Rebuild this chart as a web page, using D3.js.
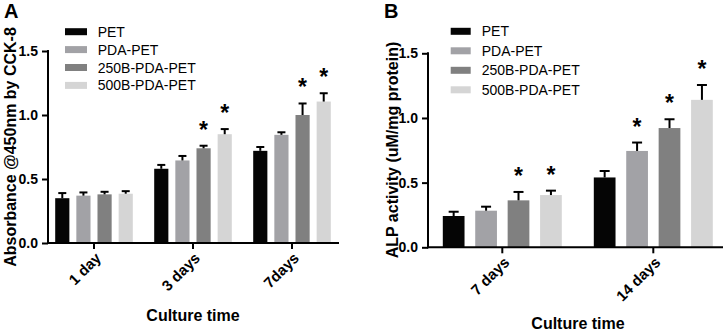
<!DOCTYPE html>
<html><head><meta charset="utf-8">
<script src="https://cdn.jsdelivr.net/npm/d3@7"></script>
<style>body{margin:0;background:#fff}svg{font-family:"Liberation Sans",Arial,sans-serif}</style>
</head><body><svg id="c" width="726" height="332"></svg>
<script>
const series = ["PET","PDA-PET","250B-PDA-PET","500B-PDA-PET"];
const colors = ["#050505","#a2a2a6","#808080","#d5d5d5"];
const yTicks = [0,0.5,1.0,1.5];

const catsA = ["1 day","3 days","7days"];
const meanA = [[0.35,0.37,0.38,0.385],[0.58,0.645,0.74,0.85],[0.72,0.845,1.0,1.105]];
const errA  = [[0.04,0.025,0.02,0.02],[0.03,0.035,0.02,0.04],[0.03,0.02,0.09,0.065]];
const starA = [[0,0,0,0],[0,0,1,1],[0,0,1,1]];

const catsB = ["7 days","14 days"];
const meanB = [[0.242,0.283,0.363,0.404],[0.54,0.745,0.922,1.14]];
const errB  = [[0.033,0.031,0.065,0.034],[0.05,0.065,0.068,0.115]];
const starB = [[0,0,1,1],[0,1,1,1]];

const svg = d3.select("#c");

function panel(o){
  const g = svg.append("g");
  const x = d3.scaleBand().domain(o.cats).range(o.xr).padding(0);
  const xs = d3.scaleBand().domain(series).range([-o.gw/2,o.gw/2]).paddingInner(0.33).paddingOuter(0);
  const y = d3.scaleLinear().domain([0,1.5]).range(o.yr);
  const rows = [];
  o.cats.forEach((c,i)=>series.forEach((s,j)=>rows.push({c,s,j,v:o.mean[i][j],e:o.err[i][j],st:o.star[i][j]})));
  const cx = d => x(d.c)+x.bandwidth()/2 + xs(d.s);
  g.selectAll("rect.bar").data(rows).join("rect").attr("class","bar")
    .attr("x",cx).attr("width",xs.bandwidth())
    .attr("y",d=>y(d.v)).attr("height",d=>y(0)-y(d.v)).attr("fill",(d)=>colors[d.j]);
  const eg = g.selectAll("g.err").data(rows).join("g").attr("class","err");
  eg.append("line").attr("x1",d=>cx(d)+xs.bandwidth()/2).attr("x2",d=>cx(d)+xs.bandwidth()/2)
    .attr("y1",d=>y(d.v)).attr("y2",d=>y(d.v+d.e)).attr("stroke","#000").attr("stroke-width",2);
  eg.append("line").attr("x1",d=>cx(d)+xs.bandwidth()/2-o.cap).attr("x2",d=>cx(d)+xs.bandwidth()/2+o.cap)
    .attr("y1",d=>y(d.v+d.e)).attr("y2",d=>y(d.v+d.e)).attr("stroke","#000").attr("stroke-width",2);
  g.selectAll("text.star").data(rows.filter(d=>d.st)).join("text").attr("class","star")
    .attr("x",d=>cx(d)+xs.bandwidth()/2).attr("y",d=>y(d.v+d.e)-8)
    .attr("text-anchor","middle").attr("font-size",23).attr("font-weight","bold").text("*");
  // y axis
  const ya = g.append("g").attr("transform",`translate(${o.ax0},0)`)
    .call(d3.axisLeft(y).tickValues(yTicks).tickFormat(d3.format(".1f")).tickSize(6).tickSizeOuter(0));
  ya.select(".domain").remove();
  ya.selectAll("line").attr("stroke-width",2);
  ya.selectAll("text").attr("font-size",14).attr("font-weight","bold").attr("font-family","Liberation Sans, Arial").attr("dx",-1);
  g.append("line").attr("x1",o.ax0).attr("x2",o.ax0).attr("y1",y(1.5)-1).attr("y2",y(0)+1).attr("stroke","#000").attr("stroke-width",2);
  // x axis
  const xa = g.append("g").attr("transform",`translate(0,${y(0)})`)
    .call(d3.axisBottom(x).tickSize(6).tickSizeOuter(0));
  xa.select(".domain").remove();
  xa.selectAll("line").attr("stroke-width",2);
  xa.selectAll("text").attr("font-size",15).attr("font-weight","bold").attr("font-family","Liberation Sans, Arial")
    .attr("text-anchor","end").attr("dy",0).attr("y",0)
    .attr("transform","translate(8,16) rotate(-45)");
  g.append("line").attr("x1",o.ax0-1).attr("x2",o.ax1).attr("y1",y(0)).attr("y2",y(0)).attr("stroke","#000").attr("stroke-width",2);
  // titles
  g.append("text").attr("x",o.xtx).attr("y",o.xty).attr("text-anchor","middle")
    .attr("font-size",16).attr("font-weight","bold").text("Culture time");
  g.append("text").attr("transform",`translate(${o.ytx},${o.yty}) rotate(-90)`).attr("text-anchor","middle")
    .attr("font-size",16).attr("font-weight","bold").text(o.ylab);
  g.append("text").attr("x",o.lx).attr("y",o.ly).attr("font-size",20).attr("font-weight","bold").text(o.letter);
  // legend
  const lg = g.selectAll("g.leg").data(series).join("g").attr("class","leg")
    .attr("transform",(d,i)=>`translate(${o.legx},${o.legy+i*o.legdy})`);
  lg.append("rect").attr("x",0).attr("y",-3.5).attr("width",o.sw).attr("height",7).attr("fill",(d,i)=>colors[i]);
  lg.append("text").attr("x",o.tx).attr("y",5).attr("font-size",14).text(d=>d);
}

panel({cats:catsA,mean:meanA,err:errA,star:starA,xr:[44.5,341.5],gw:77.6,yr:[243,51],cap:4,
  ax0:48,ax1:339,xtx:193,xty:321,ytx:16,yty:147,ylab:"Absorbance @450nm by CCK-8",
  letter:"A",lx:4,ly:18,legx:65,legy:31.7,legdy:17.9,sw:22,tx:32.7});
panel({cats:catsB,mean:meanB,err:errB,star:starB,xr:[426.8,728.8],gw:119,yr:[247.3,53.3],cap:5,
  ax0:428,ax1:723,xtx:578,xty:329,ytx:398,yty:150,ylab:"ALP activity (uM/mg protein)",
  letter:"B",lx:384,ly:18,legx:450.7,legy:31.3,legdy:19.5,sw:20,tx:31});
</script></body></html>
